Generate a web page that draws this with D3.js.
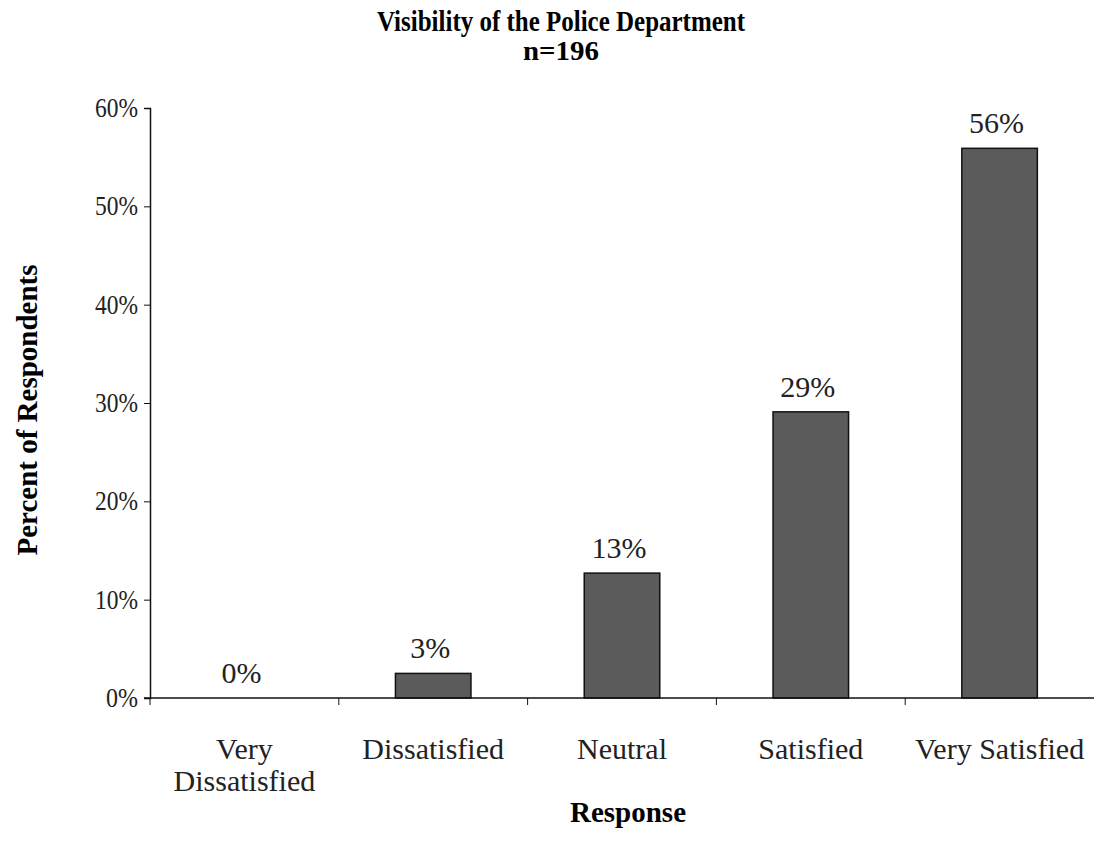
<!DOCTYPE html>
<html><head><meta charset="utf-8">
<script src="https://cdn.jsdelivr.net/npm/d3@7"></script>
<style>body{margin:0;background:#fff;} text{font-family:"Liberation Serif","Times New Roman",serif;}</style>
</head><body>
<svg id="c" width="1095" height="855"></svg>
<script>
const categories = [["Very","Dissatisfied"],["Dissatisfied"],["Neutral"],["Satisfied"],["Very Satisfied"]];
const values = [0, 2.5, 12.7, 29.1, 55.9];
const valueLabels = ["0%","3%","13%","29%","56%"];
const yTicks = [0,10,20,30,40,50,60];

const svg = d3.select("#c");
const x0 = 150, x1 = 1094, yTop = 108, yBot = 698;
const keys = categories.map((c,i)=>i);
const x = d3.scaleBand().domain(keys).range([x0,x1]).paddingInner(0.6).paddingOuter(0.3);
const y = d3.scaleLinear().domain([0,60]).range([yBot,yTop]);

svg.append("text").attr("x",561).attr("y",31).attr("text-anchor","middle")
  .attr("font-size",29).attr("font-weight","bold")
  .attr("textLength",368).attr("lengthAdjust","spacingAndGlyphs")
  .text("Visibility of the Police Department");
svg.append("text").attr("x",561).attr("y",60).attr("text-anchor","middle")
  .attr("font-size",28).attr("font-weight","bold")
  .attr("textLength",76).attr("lengthAdjust","spacingAndGlyphs").text("n=196");

// bars
svg.selectAll("rect.bar").data(values).enter().append("rect")
  .attr("x",(d,i)=>x(i)).attr("width",x.bandwidth())
  .attr("y",d=>y(d)).attr("height",d=>yBot-y(d))
  .attr("fill","#5b5b5b").attr("stroke","#111").attr("stroke-width",1.5);

svg.selectAll("text.vl").data(values).enter().append("text")
  .attr("x",(d,i)=>x(i)+x.bandwidth()/2-3).attr("y",d=>y(d)-15)
  .attr("text-anchor","middle").attr("font-size",30).attr("fill","#222")
  .text((d,i)=>valueLabels[i]);

// y axis
const ya = svg.append("g").attr("transform",`translate(${x0},0)`)
  .call(d3.axisLeft(y).tickValues(yTicks).tickFormat(d=>d+"%").tickSize(6).tickPadding(6));
ya.select(".domain").attr("stroke","#111").attr("stroke-width",1.5);
ya.selectAll("line").attr("stroke","#111");
ya.selectAll("text").attr("font-size",27).attr("fill","#222").attr("font-family","Liberation Serif")
  .attr("textLength",43).attr("lengthAdjust","spacingAndGlyphs");
ya.selectAll("text").filter(d=>d===0).attr("textLength",32);

// x axis
const step = (x1-x0)/5;
const xa = svg.append("g");
xa.append("line").attr("x1",x0-6).attr("x2",x1).attr("y1",yBot).attr("y2",yBot).attr("stroke","#111").attr("stroke-width",1.5);
const bounds = d3.range(0,6).map(i=>x0+i*step);
xa.selectAll("line.t").data(bounds.slice(0,5)).enter().append("line")
  .attr("x1",d=>d).attr("x2",d=>d).attr("y1",yBot).attr("y2",yBot+7).attr("stroke","#111");
const cl = xa.selectAll("text.cat").data(categories).enter().append("text")
  .attr("text-anchor","middle").attr("font-size",30).attr("fill","#222")
  .attr("x",(d,i)=>x(i)+x.bandwidth()/2).attr("y",759);
cl.selectAll("tspan").data(d=>d).enter().append("tspan")
  .attr("x",function(){return this.parentNode.getAttribute("x");})
  .attr("dy",(d,j)=>j===0?0:32).text(d=>d);

svg.append("text").attr("x",628).attr("y",822).attr("text-anchor","middle")
  .attr("font-size",29).attr("font-weight","bold").text("Response");
svg.append("text").attr("transform","translate(37,410) rotate(-90)").attr("text-anchor","middle")
  .attr("font-size",29).attr("font-weight","bold").text("Percent of Respondents");
</script>
</body></html>
